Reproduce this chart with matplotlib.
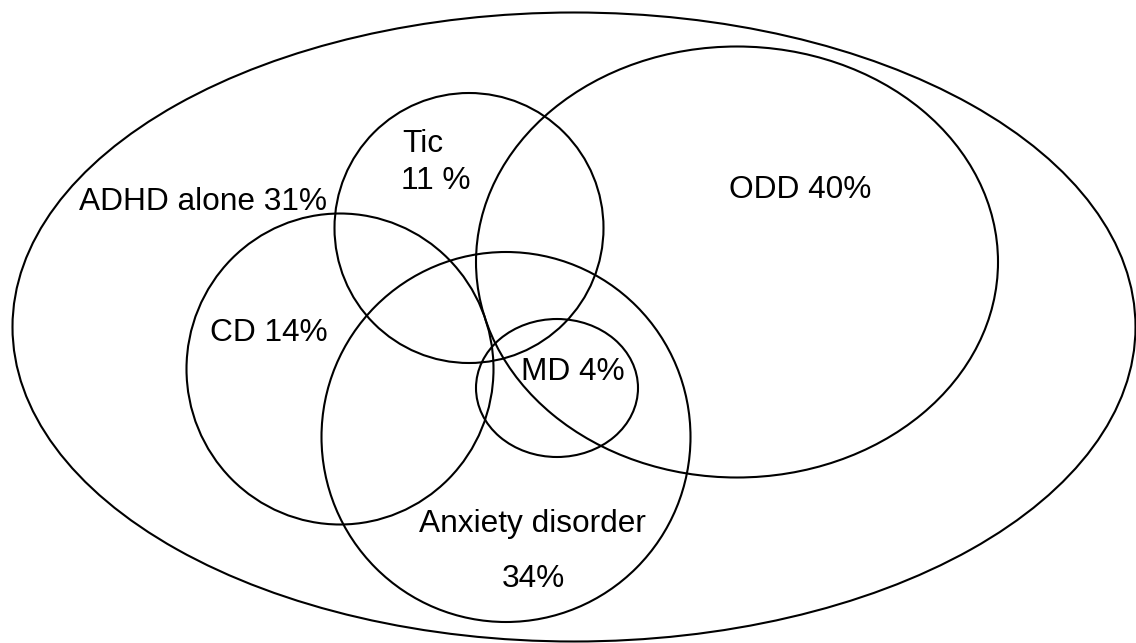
import matplotlib.pyplot as plt
from matplotlib.patches import Ellipse

names = ['outer', 'ODD', 'Tic', 'CD', 'Anxiety', 'MD']
cx = [574, 737, 469, 340, 506, 557]
cy = [327, 262, 228, 369, 437, 388]
widths = [1123, 522, 269, 307, 369, 162]
heights = [629, 431, 270, 311, 370, 138]

# labels: left edge x, baseline y
labels = ['ADHD alone 31%', 'ODD 40%', 'Tic', '11 %', 'CD 14%', 'MD 4%',
          'Anxiety disorder', '34%']
label_x = [79, 729, 402, 401, 210, 521, 419, 502]
label_y = [210, 198, 152, 189, 341, 380, 532, 587]

fig = plt.figure(figsize=(11.36, 6.43), dpi=100)
ax = fig.add_axes([0, 0, 1, 1])
ax.set_xlim(0, 1136)
ax.set_ylim(643, 0)
ax.axis('off')

for i in range(len(names)):
    e = Ellipse((cx[i], cy[i]), widths[i], heights[i], fill=False,
                edgecolor='black', linewidth=1.5)
    ax.add_patch(e)

for txt, x, y in zip(labels, label_x, label_y):
    ax.text(x, y, txt, ha='left', va='baseline', fontsize=22.8,
            family='Liberation Sans', color='black')

fig.savefig('out.png', dpi=100, facecolor='white')
